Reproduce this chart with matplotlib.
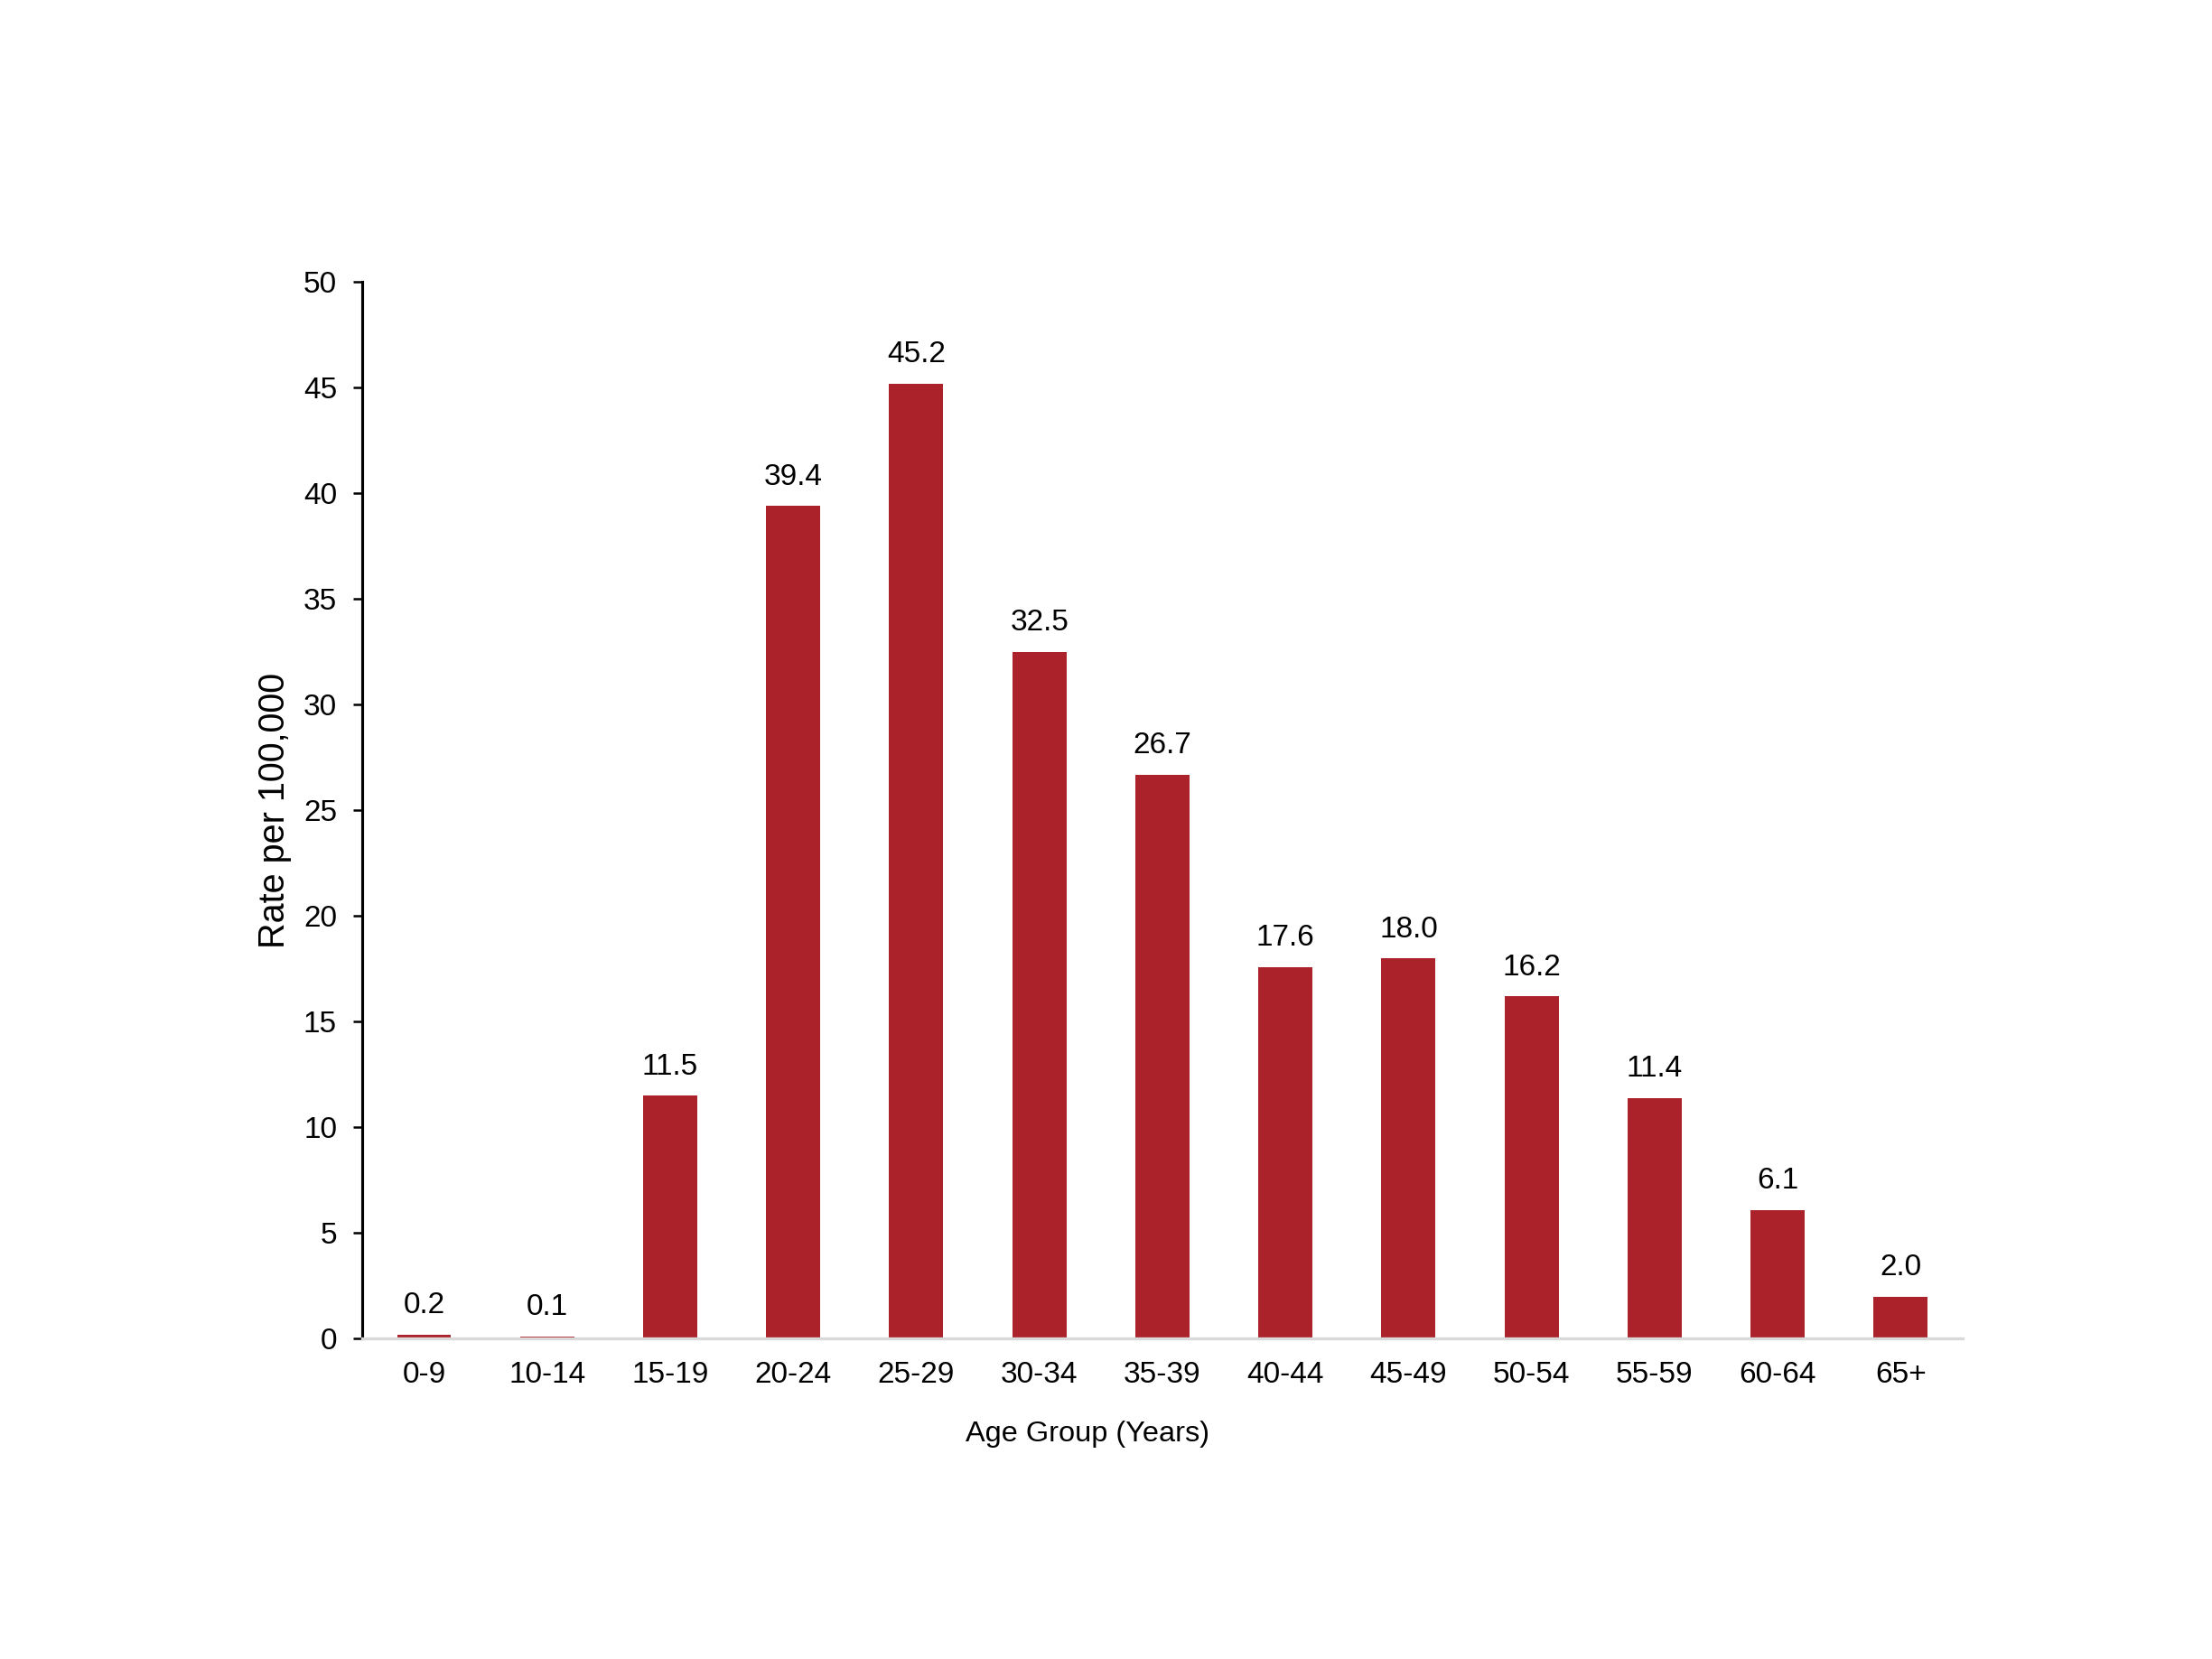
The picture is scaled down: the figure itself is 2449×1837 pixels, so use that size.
"""
bar chart: rate per 100,000 by age group
"""

import matplotlib.pyplot as plt

age_groups = ['0-9', '10-14', '15-19', '20-24', '25-29', '30-34', '35-39',
              '40-44', '45-49', '50-54', '55-59', '60-64', '65+']
rates = [0.2, 0.1, 11.5, 39.4, 45.2, 32.5, 26.7, 17.6, 18.0, 16.2, 11.4, 6.1, 2.0]
y_ticks = [0, 5, 10, 15, 20, 25, 30, 35, 40, 45, 50]

BAR_COLOR = '#ab222b'

plt.rcParams['font.family'] = ['Liberation Sans', 'DejaVu Sans']

fig = plt.figure(figsize=(2449 / 300, 1837 / 300), dpi=300)
ax = fig.add_axes([0.1639, 0.193, 0.7232, 0.637])

x = range(len(age_groups))
bars = ax.bar(x, rates, width=0.44, color=BAR_COLOR, zorder=2)

# value labels above each bar
for xi, val in zip(x, rates):
    ax.annotate('%.1f' % val, (xi, val), xytext=(0, 4), textcoords='offset points',
                ha='center', va='bottom', fontsize=8)

ax.set_xlim(-0.5, len(age_groups) - 0.5)
ax.set_ylim(0, 50)
ax.set_yticks(y_ticks)
ax.set_xticks(list(x))
ax.set_xticklabels(age_groups)

for side in ('top', 'right'):
    ax.spines[side].set_visible(False)
ax.spines['left'].set_linewidth(0.75)
ax.spines['left'].set_color('black')
ax.spines['bottom'].set_linewidth(0.8)
ax.spines['bottom'].set_color('#d9d9d9')
ax.spines['bottom'].set_zorder(3)

ax.tick_params(axis='y', length=2.3, width=0.6, pad=4.5, labelsize=8)
ax.tick_params(axis='x', length=0, pad=6, labelsize=8)

ax.set_ylabel('Rate per 100,000', fontsize=9.5, labelpad=3)
ax.set_xlabel('Age Group (Years)', fontsize=7.8)
ax.xaxis.set_label_coords(0.453, -0.077)

plt.savefig('out.png', dpi=300)
